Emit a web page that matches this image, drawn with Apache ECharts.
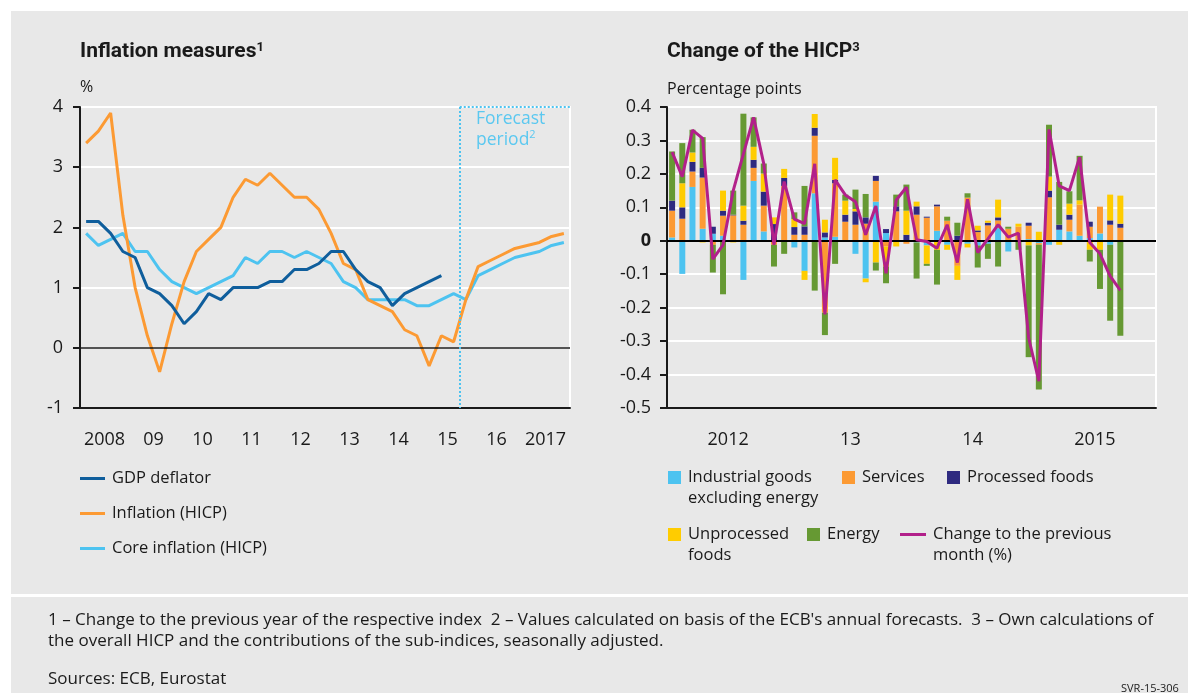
<!DOCTYPE html>
<html>
<head>
<meta charset="utf-8">
<script src="https://cdn.jsdelivr.net/npm/echarts@6/dist/echarts.min.js"></script>
<style>
html, body { margin: 0; padding: 0; background: #fff; }
#main { width: 1188px; height: 693px; }
</style>
</head>
<body>
<div id="main"></div>
<script>
// left panel: quarterly, 2008 Q1 - 2017 Q4
var quarters = [];
for (var y = 2008; y <= 2017; y++) { for (var q = 1; q <= 4; q++) quarters.push(y + 'Q' + q); }
var leftYears = ['2008', '09', '10', '11', '12', '13', '14', '15', '16', '2017'];
var forecastStart = 31; // first forecast quarter (2015 Q4)

var gdpDeflator = [2.1, 2.1, 1.9, 1.6, 1.5, 1.0, 0.9, 0.7, 0.4, 0.6, 0.9, 0.8, 1.0, 1.0, 1.0, 1.1, 1.1, 1.3, 1.3, 1.4,
    1.6, 1.6, 1.3, 1.1, 1.0, 0.7, 0.9, 1.0, 1.1, 1.2];
var hicp = [3.4, 3.6, 3.9, 2.2, 1.0, 0.2, -0.4, 0.4, 1.1, 1.6, 1.8, 2.0, 2.5, 2.8, 2.7, 2.9, 2.7, 2.5, 2.5, 2.3,
    1.9, 1.4, 1.3, 0.8, 0.7, 0.6, 0.3, 0.2, -0.3, 0.2, 0.1, 0.8, 1.35, 1.45, 1.55, 1.65, 1.7, 1.75, 1.85, 1.9];
var coreHicp = [1.9, 1.7, 1.8, 1.9, 1.6, 1.6, 1.3, 1.1, 1.0, 0.9, 1.0, 1.1, 1.2, 1.5, 1.4, 1.6, 1.6, 1.5, 1.6, 1.5,
    1.4, 1.1, 1.0, 0.8, 0.8, 0.8, 0.8, 0.7, 0.7, 0.8, 0.9, 0.8, 1.2, 1.3, 1.4, 1.5, 1.55, 1.6, 1.7, 1.75];

// right panel: monthly, 2012 - 2015
var months = [];
for (var y2 = 2012; y2 <= 2015; y2++) { for (var m = 1; m <= 12; m++) months.push(y2 + '-' + m); }
var rightYears = ['2012', '13', '14', '2015'];

var industrial = [0.01, -0.099, 0.161, 0.036, 0.021, 0.015, 0, -0.117, 0.179, 0.028, 0, 0, -0.02, -0.09, 0.142,
    0.01, 0.012, 0, -0.039, -0.113, 0.117, 0.023, 0, 0, -0.005, -0.014, 0.03, -0.012, 0, -0.009, -0.014, -0.009,
    0.038, -0.032, 0, 0.005, -0.007, -0.012, 0.033, 0.028, 0.015, 0.008, 0.022, -0.012, 0];
var services = [0.08, 0.066, 0.046, 0.153, -0.012, 0.06, 0.076, 0.048, 0.039, 0.077, -0.012, 0.164, 0.018, 0.018,
    0.172, -0.215, 0.16, 0.057, 0.048, 0.051, 0.062, -0.017, 0.088, -0.009, 0.078, 0.069, 0.073, 0.06, -0.075,
    0.129, 0.026, 0.046, 0.023, 0.036, 0.042, 0.04, -0.005, 0.13, 0, 0.035, 0.093, 0.034, 0.08, 0.048, 0.039];
var processed = [0.03, 0.034, 0.029, 0.029, 0.021, 0.015, 0.002, 0.012, 0.024, 0.042, 0.05, 0.024, 0.023, 0.025,
    0.024, 0.015, 0.01, 0.021, 0.04, 0.019, 0.015, 0.012, 0.015, 0.018, 0.025, 0.003, 0.005, 0, 0.015, 0, 0.005,
    0.008, 0.009, 0, 0, 0.009, 0, 0.02, 0.015, 0.015, 0, 0.015, 0, 0.013, 0.012];
var unprocessed = [-0.003, 0.072, 0.028, -0.005, 0, 0.06, -0.005, 0.045, 0.039, 0.054, 0.02, 0.027, 0.024, -0.027,
    0.041, 0.038, 0.066, 0.042, 0.007, -0.011, -0.065, -0.06, -0.017, 0.072, 0.014, -0.055, -0.027, -0.015, -0.042,
    -0.011, 0.014, 0.006, 0.053, 0, 0.009, -0.014, 0.027, 0.042, -0.012, 0.033, 0.013, -0.027, -0.027, 0.077, 0.084];
var energy = [0.147, 0.12, 0.068, 0.092, -0.083, -0.16, 0.072, 0.275, 0.088, 0.03, -0.065, -0.039, 0.02, 0.121,
    -0.149, -0.067, -0.069, 0.018, 0.058, 0.07, -0.024, -0.05, 0.035, 0.078, -0.108, -0.006, -0.104, 0.012, 0.039,
    0.013, -0.066, -0.045, -0.077, 0.006, -0.027, -0.334, -0.433, 0.155, 0.128, 0.037, 0.133, -0.035, -0.117,
    -0.227, -0.284];
var monthChange = [0.265, 0.192, 0.331, 0.306, -0.055, -0.012, 0.15, 0.26, 0.369, 0.23, -0.012, 0.177, 0.065,
    0.051, 0.23, -0.22, 0.182, 0.137, 0.117, 0.018, 0.104, -0.097, 0.122, 0.16, 0.003, -0.002, -0.022, 0.048,
    -0.065, 0.124, -0.035, 0.006, 0.048, 0.011, 0.023, -0.29, -0.42, 0.333, 0.164, 0.15, 0.25, -0.005, -0.039,
    -0.106, -0.148];

var FONT = '"Open Sans", "Liberation Sans", sans-serif';
var TFONT = 'Roboto, "Liberation Sans", sans-serif';
var INK = '#1a1a1a';
var C_LBLUE = '#4dc3f0', C_ORANGE = '#fc9a33', C_PURPLE = '#2e2a80', C_YELLOW = '#ffcc00',
    C_GREEN = '#669933', C_MAGENTA = '#b2208a', C_DBLUE = '#0f5e9c';

// a leading blank line keeps the icon level with the first text line
var legendText = {
    'Industrial goods excluding energy': '\nIndustrial goods\nexcluding energy',
    'Unprocessed foods': '\nUnprocessed\nfoods',
    'Change to the previous month (%)': '\nChange to the previous\nmonth (%)'
};

function legendAt(name, left, top, w, h) {
    return {
        data: [name], left: left, top: top, padding: 0, icon: 'rect', itemWidth: w, itemHeight: h,
        selectedMode: false,
        formatter: function (n) { return legendText[n] || n; },
        textStyle: { fontFamily: FONT, fontSize: 16.5, color: INK, lineHeight: 21, padding: [0, 0, 0, 2] }
    };
}

var myChart = echarts.init(document.getElementById('main'));

var option = {
    backgroundColor: '#fff',
    animation: false,
    textStyle: { fontFamily: FONT },
    graphic: [
        { type: 'rect', z: -10, silent: true, shape: { x: 11, y: 11, width: 1177, height: 583 }, style: { fill: '#e8e8e8' } },
        { type: 'rect', z: -10, silent: true, shape: { x: 11, y: 597, width: 1177, height: 96 }, style: { fill: '#e8e8e8' } },
        {
            type: 'text', left: 80, top: 41, style: {
                text: '{t|Inflation measures}{s|1}',
                rich: { t: { fontSize: 21, fontWeight: 'bold', fill: INK, fontFamily: TFONT },
                        s: { fontSize: 13, fontWeight: 'bold', fill: INK, fontFamily: TFONT, verticalAlign: 'top' } }
            }
        },
        {
            type: 'text', left: 667, top: 41, style: {
                text: '{t|Change of the HICP}{s|3}',
                rich: { t: { fontSize: 21, fontWeight: 'bold', fill: INK, fontFamily: TFONT },
                        s: { fontSize: 13, fontWeight: 'bold', fill: INK, fontFamily: TFONT, verticalAlign: 'top' } }
            }
        },
        { type: 'text', left: 80, top: 79, style: { text: '%', fontSize: 16, fill: INK, fontFamily: FONT } },
        { type: 'text', left: 667, top: 81, style: { text: 'Percentage points', fontSize: 16, fill: INK, fontFamily: FONT } },
        {
            type: 'text', left: 476, top: 110, style: {
                text: '{a|Forecast}\n{a|period}{s|2}',
                rich: { a: { fontSize: 17.5, fill: '#5bc8f0', fontFamily: FONT, lineHeight: 21 },
                        s: { fontSize: 11, fill: '#5bc8f0', fontFamily: FONT, verticalAlign: 'top', lineHeight: 21 } }
            }
        },
        {
            type: 'text', left: 48, top: 610, style: {
                text: "1 \u2013 Change to the previous year of the respective index  2 \u2013 Values calculated on basis of the ECB's annual forecasts.  3 \u2013 Own calculations of\nthe overall HICP and the contributions of the sub-indices, seasonally adjusted.",
                fontSize: 17, lineHeight: 21, fill: INK, fontFamily: FONT
            }
        },
        { type: 'text', left: 48, top: 671, style: { text: 'Sources: ECB, Eurostat', fontSize: 17, fill: INK, fontFamily: FONT } },
        { type: 'text', left: 1121, top: 683, style: { text: 'SVR-15-306', fontSize: 11, fill: INK, fontFamily: FONT } }
    ],
    legend: [
        legendAt('GDP deflator', 80, 468, 25, 3),
        legendAt('Inflation (HICP)', 80, 503, 25, 3),
        legendAt('Core inflation (HICP)', 80, 538, 25, 3),
        legendAt('Industrial goods excluding energy', 668, 446, 13, 13),
        legendAt('Services', 842, 467, 13, 13),
        legendAt('Processed foods', 947, 467, 13, 13),
        legendAt('Unprocessed foods', 668, 503, 13, 13),
        legendAt('Energy', 807, 524, 13, 13),
        legendAt('Change to the previous month (%)', 900, 503, 26, 3)
    ],
    grid: [
        { left: 80, top: 107, width: 490, height: 301, show: true, borderColor: '#fff', borderWidth: 2, backgroundColor: 'transparent' },
        { left: 667, top: 107, width: 489, height: 301, show: true, borderColor: '#fff', borderWidth: 2, backgroundColor: 'transparent' }
    ],
    xAxis: [
        {
            gridIndex: 0, type: 'category', data: quarters, position: 'bottom', boundaryGap: true,
            axisLine: { onZero: false, lineStyle: { color: INK, width: 2 } },
            axisTick: { interval: 0, length: 7, lineStyle: { color: INK, width: 2 } },
            axisLabel: { show: false }, splitLine: { show: false }
        },
        {
            gridIndex: 0, type: 'category', data: leftYears, position: 'bottom', boundaryGap: true,
            axisLine: { show: false, onZero: false },
            axisTick: { interval: 0, length: 14, lineStyle: { color: INK, width: 2 } },
            axisLabel: { interval: 0, margin: 23, fontSize: 18, color: INK, fontFamily: FONT },
            splitLine: { show: false }
        },
        { gridIndex: 0, type: 'value', min: 0, max: quarters.length, show: false, position: 'top' },
        {
            gridIndex: 1, type: 'category', data: months, position: 'bottom', boundaryGap: true,
            axisLine: { onZero: false, lineStyle: { color: INK, width: 2 } },
            axisTick: { interval: 0, length: 7, lineStyle: { color: INK, width: 2 } },
            axisLabel: { show: false }, splitLine: { show: false }
        },
        {
            gridIndex: 1, type: 'category', data: rightYears, position: 'bottom', boundaryGap: true,
            axisLine: { show: false, onZero: false },
            axisTick: { interval: 0, length: 14, lineStyle: { color: INK, width: 2 } },
            axisLabel: { interval: 0, margin: 23, fontSize: 18, color: INK, fontFamily: FONT },
            splitLine: { show: false }
        }
    ],
    yAxis: [
        {
            gridIndex: 0, type: 'value', min: -1, max: 4, interval: 1,
            axisLine: { show: true, onZero: false, lineStyle: { color: INK, width: 2 } },
            axisTick: { show: true, length: 7, lineStyle: { color: INK, width: 2 } },
            axisLabel: { margin: 17, fontSize: 18, color: INK, fontFamily: FONT },
            splitLine: { lineStyle: { color: '#fff', width: 2 } }
        },
        {
            gridIndex: 1, type: 'value', min: -0.5, max: 0.4, interval: 0.1,
            axisLine: { show: true, onZero: false, lineStyle: { color: INK, width: 2 } },
            axisTick: { show: true, length: 7, lineStyle: { color: INK, width: 2 } },
            axisLabel: {
                margin: 16, fontSize: 18, color: INK, fontFamily: FONT,
                formatter: function (v) { return Math.abs(v) < 1e-9 ? '{b|0}' : v.toFixed(1); },
                rich: { b: { fontWeight: 'bold', fontSize: 18, color: INK, fontFamily: FONT } }
            },
            splitLine: { lineStyle: { color: '#fff', width: 2 } }
        }
    ],
    series: [
        {
            name: 'Core inflation (HICP)', type: 'line', xAxisIndex: 0, yAxisIndex: 0, data: coreHicp,
            symbol: 'none', lineStyle: { color: C_LBLUE, width: 3 }, itemStyle: { color: C_LBLUE }
        },
        {
            name: 'Inflation (HICP)', type: 'line', xAxisIndex: 0, yAxisIndex: 0, data: hicp,
            symbol: 'none', lineStyle: { color: C_ORANGE, width: 3 }, itemStyle: { color: C_ORANGE }
        },
        {
            name: 'GDP deflator', type: 'line', xAxisIndex: 0, yAxisIndex: 0, data: gdpDeflator,
            symbol: 'none', lineStyle: { color: C_DBLUE, width: 3 }, itemStyle: { color: C_DBLUE }, z: 4,
            markLine: {
                silent: true, symbol: 'none', label: { show: false },
                lineStyle: { color: INK, width: 1.5, type: 'solid' },
                data: [{ yAxis: 0 }]
            }
        },
        {
            name: 'forecast', type: 'line', xAxisIndex: 2, yAxisIndex: 0, data: [], z: 5,
            markLine: {
                silent: true, symbol: 'none', label: { show: false },
                lineStyle: { color: C_LBLUE, width: 2, type: [2, 2] },
                data: [
                    [{ coord: [forecastStart, 4] }, { coord: [forecastStart, -1] }],
                    [{ coord: [forecastStart, 4] }, { coord: [quarters.length, 4] }]
                ]
            }
        },
        { name: 'Industrial goods excluding energy', type: 'bar', stack: 'hicp', xAxisIndex: 3, yAxisIndex: 1, barWidth: 6, data: industrial, itemStyle: { color: C_LBLUE } },
        { name: 'Services', type: 'bar', stack: 'hicp', xAxisIndex: 3, yAxisIndex: 1, barWidth: 6, data: services, itemStyle: { color: C_ORANGE } },
        { name: 'Processed foods', type: 'bar', stack: 'hicp', xAxisIndex: 3, yAxisIndex: 1, barWidth: 6, data: processed, itemStyle: { color: C_PURPLE } },
        { name: 'Unprocessed foods', type: 'bar', stack: 'hicp', xAxisIndex: 3, yAxisIndex: 1, barWidth: 6, data: unprocessed, itemStyle: { color: C_YELLOW } },
        {
            name: 'Energy', type: 'bar', stack: 'hicp', xAxisIndex: 3, yAxisIndex: 1, barWidth: 6, data: energy, itemStyle: { color: C_GREEN },
            markLine: {
                silent: true, symbol: 'none', label: { show: false },
                lineStyle: { color: '#000', width: 2, type: 'solid' },
                data: [{ yAxis: 0 }]
            }
        },
        {
            name: 'Change to the previous month (%)', type: 'line', xAxisIndex: 3, yAxisIndex: 1, data: monthChange,
            symbol: 'none', lineStyle: { color: C_MAGENTA, width: 3 }, itemStyle: { color: C_MAGENTA }, z: 5
        }
    ]
};

myChart.setOption(option);
</script>
</body>
</html>
